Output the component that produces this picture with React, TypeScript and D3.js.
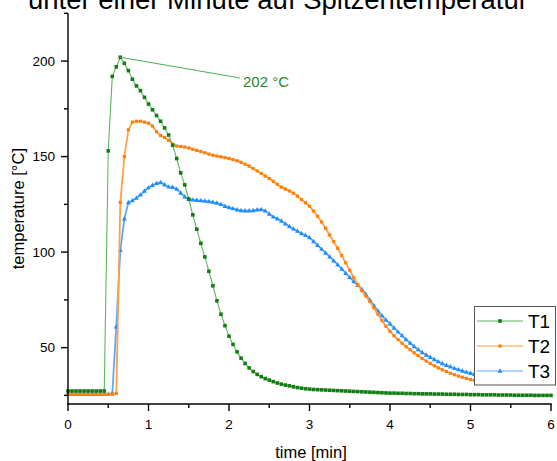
import React from "react";
import * as d3 from "d3";

// logger samples every 3 s (0.05 min)
const sampleStep = 0.05;

const t1Temp = [
  27.3, 27.3, 27.3, 27.3, 27.3, 27.3, 27.3, 27.3, 27.3, 27.3, 153, 192, 197, 202, 198.8, 195, 190.5, 187, 184.5, 181,
  177.5, 174.5, 171.5, 168.5, 165, 161.3, 156, 149, 141.5, 135.2, 127.8, 119.5, 112, 104.6, 97.5, 90, 82.4, 74.5, 67.5, 61.5,
  56, 51.7, 47.8, 44.5, 41.7, 39.4, 37.5, 36, 34.8, 33.8, 33, 32.2, 31.5, 30.9, 30.4, 30, 29.5, 29.1, 28.8, 28.5,
  28.3, 28.1, 28, 27.9, 27.8, 27.7, 27.6, 27.5, 27.4, 27.3, 27.2, 27.1, 27, 26.9, 26.8, 26.7, 26.6, 26.5, 26.4, 26.3,
  26.2, 26.2, 26.1, 26.1, 26, 26, 25.9, 25.9, 25.8, 25.8, 25.8, 25.7, 25.7, 25.7, 25.6, 25.6, 25.6, 25.5, 25.5, 25.5,
  25.4, 25.4, 25.4, 25.3, 25.3, 25.3, 25.3, 25.2, 25.2, 25.2, 25.2, 25.1, 25.1, 25.1, 25.1, 25.1, 25, 25, 25, 25,
  25,
];

const t2Temp = [
  25.6, 25.6, 25.6, 25.6, 25.6, 25.6, 25.6, 25.6, 25.6, 25.6, 25.6, 25.6, 26, 126, 150, 164, 168, 168.5, 168.5, 168,
  167.5, 166, 163, 161, 160, 158.5, 156.5, 155.5, 155.3, 155, 154.5, 153.8, 153.2, 152.6, 152, 151.3, 150.7, 150.3, 149.9, 149.5,
  149, 148.4, 147.8, 147, 146, 145, 143.7, 142.5, 141.2, 139.8, 138.5, 137, 135.5, 134, 133, 132, 130.8, 129.3, 127.5, 125.8,
  124, 121.5, 118.8, 115.8, 112.5, 109, 105.5, 102, 98.2, 94.4, 90.5, 86.6, 83, 79.8, 77, 74.2, 70.8, 67.5, 64.2, 61.2,
  58.5, 56.2, 54.2, 52.3, 50.5, 48.9, 47.3, 45.8, 44.3, 43, 41.7, 40.5, 39.4, 38.4, 37.5, 36.6, 35.8, 35.1, 34.5, 33.9,
  33.3, 32.8, 32.3,
];

const t3Temp = [
  25.6, 25.6, 25.6, 25.6, 25.6, 25.6, 25.6, 25.6, 25.6, 25.6, 25.6, 26, 61, 101, 117.5, 126, 127, 128.3, 130, 132,
  133.8, 135, 136, 136.5, 135.3, 134.2, 134, 133, 131, 129, 127.7, 127.4, 127.2, 127, 126.8, 126.5, 126.2, 125.7, 125, 124,
  123.4, 122.8, 122.2, 121.8, 121.7, 121.7, 121.8, 122.2, 122.3, 121.6, 120, 118.5, 117.5, 116.3, 114.8, 113.4, 112.2, 111, 109.8, 108.8,
  107.6, 105.6, 103.6, 101.6, 99.6, 97.6, 95.5, 93.4, 91.2, 89, 86.8, 84.6, 82.6, 80.6, 78, 75, 72, 69.2, 66.8, 64.5,
  62.5, 60.3, 58.3, 56.3, 54.3, 52.4, 50.6, 49, 47.5, 46.2, 45, 43.8, 42.7, 41.7, 40.8, 40, 39.2, 38.5, 37.8, 37.2,
  36.6, 36.1, 35.6,
];

const seriesNames = ["T1", "T2", "T3"];
const xTicks = [0, 1, 2, 3, 4, 5, 6];
const yTicks = [50, 100, 150, 200];

const peakTime = 0.65;
const peakTemp = 202;
const peakLabel = "202 °C";

const title = "unter einer Minute auf Spitzentemperatur";
const xTitle = "time [min]";
const yTitle = "temperature [°C]";

const W = 557;
const H = 461;
const font = "'Liberation Sans', Arial, sans-serif";

const styles = [
  { line: "#5fb65f", mark: "#127d12", shape: "square", size: 3.6, width: 1.1 },
  { line: "#ffa04a", mark: "#ff7f0a", shape: "square", size: 3.2, width: 1.8 },
  { line: "#5aa9ff", mark: "#1f8cff", shape: "triangle", size: 4.4, width: 1.8 },
];

function Marker({ x, y, shape, size, color }) {
  if (shape === "triangle") {
    const h = size;
    return (
      <path
        d={`M${x},${y - h * 0.6}L${x + h * 0.55},${y + h * 0.4}L${x - h * 0.55},${y + h * 0.4}Z`}
        fill={color}
      />
    );
  }
  return <rect x={x - size / 2} y={y - size / 2} width={size} height={size} fill={color} />;
}

export default function App() {
  const x = d3.scaleLinear().domain([0, 6]).range([68, 551]);
  const y = d3.scaleLinear().domain([20.5, 225]).range([404, 13.3]);

  const all = [t1Temp, t2Temp, t3Temp].map((vals) =>
    vals.map((v, i) => ({ t: i * sampleStep, v }))
  );

  const line = d3
    .line<{ t: number; v: number }>()
    .x((d) => x(d.t))
    .y((d) => y(d.v));

  const minorX = d3.range(0, 6.01, 0.5).filter((d) => !xTicks.includes(d));
  const minorY = [25, 75, 125, 175, 225];

  // draw order: T3 at the back, T1 in front
  const order = [2, 1, 0];

  const annX = x.invert(240);
  const annY = y.invert(78);

  return (
    <svg
      width={W}
      height={H}
      style={{ position: "absolute", left: 0, top: 0, background: "#fff" }}
      fontFamily={font}
    >
      <text x={28} y={9} fontSize={27.5} fill="#000">
        {title}
      </text>

      {order.map((k) => (
        <g key={seriesNames[k]}>
          <path
            d={line(all[k]) || ""}
            fill="none"
            stroke={styles[k].line}
            strokeWidth={styles[k].width}
            strokeLinejoin="round"
          />
          {all[k].map((d, i) => (
            <Marker
              key={i}
              x={x(d.t)}
              y={y(d.v)}
              shape={styles[k].shape}
              size={styles[k].size}
              color={styles[k].mark}
            />
          ))}
        </g>
      ))}

      {/* peak annotation */}
      <line
        x1={x(peakTime)}
        y1={y(peakTemp)}
        x2={x(annX)}
        y2={y(annY)}
        stroke="#4caf4c"
        strokeWidth={1}
      />
      <text x={x(annX) + 3} y={y(annY) + 9} fontSize={15} fill="#1f8a1f">
        {peakLabel}
      </text>

      {/* axes */}
      <g stroke="#000" strokeWidth={1.4}>
        <line x1={68} x2={68} y1={13.3} y2={404.7} />
        <line x1={67.3} x2={551.7} y1={404} y2={404} />
        {xTicks.map((d) => (
          <line key={"xt" + d} x1={x(d)} x2={x(d)} y1={404} y2={411} />
        ))}
        {minorX.map((d) => (
          <line key={"xm" + d} x1={x(d)} x2={x(d)} y1={404} y2={408} />
        ))}
        {yTicks.map((d) => (
          <line key={"yt" + d} x1={61} x2={68} y1={y(d)} y2={y(d)} />
        ))}
        {minorY.map((d) => (
          <line key={"ym" + d} x1={64} x2={68} y1={y(d)} y2={y(d)} />
        ))}
      </g>
      {xTicks.map((d) => (
        <text key={"xl" + d} x={x(d)} y={429} fontSize={13.5} textAnchor="middle" fill="#000">
          {d}
        </text>
      ))}
      {yTicks.map((d) => (
        <text key={"yl" + d} x={55} y={y(d) + 4.5} fontSize={13.5} textAnchor="end" fill="#000">
          {d}
        </text>
      ))}
      <text x={311} y={458} fontSize={16.5} textAnchor="middle" fill="#000">
        {xTitle}
      </text>
      <text
        transform={`translate(24,${(13.3 + 404) / 2}) rotate(-90)`}
        fontSize={16.5}
        textAnchor="middle"
        fill="#000"
      >
        {yTitle}
      </text>

      {/* legend */}
      <rect x={474.5} y={306.5} width={81} height={78.5} fill="#fff" stroke="#555" strokeWidth={1} />
      {seriesNames.map((name, k) => {
        const ly = 321 + k * 25;
        return (
          <g key={"lg" + name}>
            <line x1={477} x2={523} y1={ly} y2={ly} stroke={styles[k].line} strokeWidth={1.1} />
            <Marker x={500} y={ly} shape={styles[k].shape} size={styles[k].size} color={styles[k].mark} />
            <text x={528} y={ly + 7} fontSize={19} fill="#000">
              {name}
            </text>
          </g>
        );
      })}
    </svg>
  );
}
